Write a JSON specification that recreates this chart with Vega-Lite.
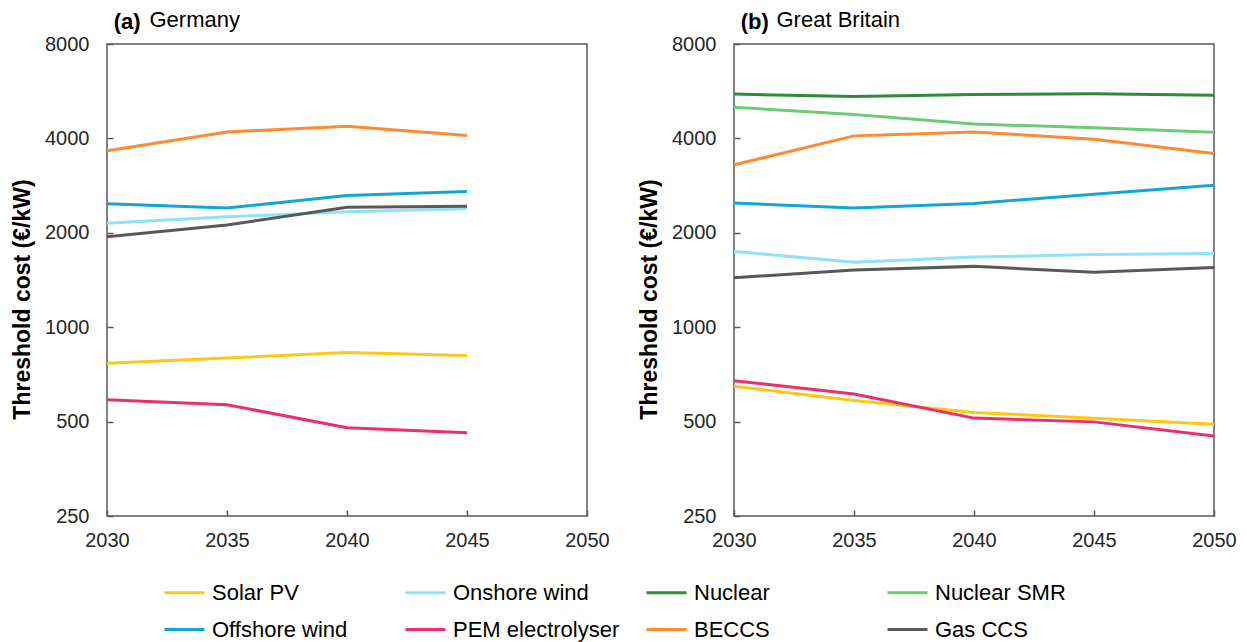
{
  "$schema": "https://vega.github.io/schema/vega-lite/v6.json",
  "padding": {"left": 10, "top": 8, "right": 20, "bottom": 5},
  "config": {
    "font": "Liberation Sans",
    "view": {"stroke": "#595959", "strokeWidth": 1.5},
    "axis": {
      "grid": false,
      "domain": false,
      "labelFontSize": 20,
      "labelColor": "#262626",
      "tickColor": "#595959",
      "tickWidth": 1.5,
      "tickSize": -6
    },
    "title": {"fontSize": 22, "color": "#000000", "anchor": "start"}
  },
  "data": {
    "values": [
      {"country": "Germany", "tech": "Solar PV", "year": 2030, "cost": 767},
      {"country": "Germany", "tech": "Solar PV", "year": 2035, "cost": 798},
      {"country": "Germany", "tech": "Solar PV", "year": 2040, "cost": 830},
      {"country": "Germany", "tech": "Solar PV", "year": 2045, "cost": 813},
      {"country": "Germany", "tech": "Onshore wind", "year": 2030, "cost": 2145},
      {"country": "Germany", "tech": "Onshore wind", "year": 2035, "cost": 2250},
      {"country": "Germany", "tech": "Onshore wind", "year": 2040, "cost": 2333},
      {"country": "Germany", "tech": "Onshore wind", "year": 2045, "cost": 2388},
      {"country": "Germany", "tech": "Offshore wind", "year": 2030, "cost": 2475},
      {"country": "Germany", "tech": "Offshore wind", "year": 2035, "cost": 2400},
      {"country": "Germany", "tech": "Offshore wind", "year": 2040, "cost": 2629},
      {"country": "Germany", "tech": "Offshore wind", "year": 2045, "cost": 2707},
      {"country": "Germany", "tech": "PEM electrolyser", "year": 2030, "cost": 587},
      {"country": "Germany", "tech": "PEM electrolyser", "year": 2035, "cost": 566},
      {"country": "Germany", "tech": "PEM electrolyser", "year": 2040, "cost": 478},
      {"country": "Germany", "tech": "PEM electrolyser", "year": 2045, "cost": 461},
      {"country": "Germany", "tech": "BECCS", "year": 2030, "cost": 3650},
      {"country": "Germany", "tech": "BECCS", "year": 2035, "cost": 4193},
      {"country": "Germany", "tech": "BECCS", "year": 2040, "cost": 4374},
      {"country": "Germany", "tech": "BECCS", "year": 2045, "cost": 4084},
      {"country": "Germany", "tech": "Gas CCS", "year": 2030, "cost": 1944},
      {"country": "Germany", "tech": "Gas CCS", "year": 2035, "cost": 2118},
      {"country": "Germany", "tech": "Gas CCS", "year": 2040, "cost": 2413},
      {"country": "Germany", "tech": "Gas CCS", "year": 2045, "cost": 2432},
      {"country": "Great Britain", "tech": "Solar PV", "year": 2030, "cost": 648},
      {"country": "Great Britain", "tech": "Solar PV", "year": 2035, "cost": 584},
      {"country": "Great Britain", "tech": "Solar PV", "year": 2040, "cost": 535},
      {"country": "Great Britain", "tech": "Solar PV", "year": 2045, "cost": 512},
      {"country": "Great Britain", "tech": "Solar PV", "year": 2050, "cost": 490},
      {"country": "Great Britain", "tech": "Onshore wind", "year": 2030, "cost": 1745},
      {"country": "Great Britain", "tech": "Onshore wind", "year": 2035, "cost": 1612},
      {"country": "Great Britain", "tech": "Onshore wind", "year": 2040, "cost": 1673},
      {"country": "Great Britain", "tech": "Onshore wind", "year": 2045, "cost": 1704},
      {"country": "Great Britain", "tech": "Onshore wind", "year": 2050, "cost": 1717},
      {"country": "Great Britain", "tech": "Nuclear", "year": 2030, "cost": 5540},
      {"country": "Great Britain", "tech": "Nuclear", "year": 2035, "cost": 5438},
      {"country": "Great Britain", "tech": "Nuclear", "year": 2040, "cost": 5522},
      {"country": "Great Britain", "tech": "Nuclear", "year": 2045, "cost": 5555},
      {"country": "Great Britain", "tech": "Nuclear", "year": 2050, "cost": 5493},
      {"country": "Great Britain", "tech": "Nuclear SMR", "year": 2030, "cost": 5027},
      {"country": "Great Britain", "tech": "Nuclear SMR", "year": 2035, "cost": 4770},
      {"country": "Great Britain", "tech": "Nuclear SMR", "year": 2040, "cost": 4444},
      {"country": "Great Britain", "tech": "Nuclear SMR", "year": 2045, "cost": 4327},
      {"country": "Great Britain", "tech": "Nuclear SMR", "year": 2050, "cost": 4182},
      {"country": "Great Britain", "tech": "Offshore wind", "year": 2030, "cost": 2487},
      {"country": "Great Britain", "tech": "Offshore wind", "year": 2035, "cost": 2400},
      {"country": "Great Britain", "tech": "Offshore wind", "year": 2040, "cost": 2481},
      {"country": "Great Britain", "tech": "Offshore wind", "year": 2045, "cost": 2656},
      {"country": "Great Britain", "tech": "Offshore wind", "year": 2050, "cost": 2836},
      {"country": "Great Britain", "tech": "PEM electrolyser", "year": 2030, "cost": 675},
      {"country": "Great Britain", "tech": "PEM electrolyser", "year": 2035, "cost": 612},
      {"country": "Great Britain", "tech": "PEM electrolyser", "year": 2040, "cost": 513},
      {"country": "Great Britain", "tech": "PEM electrolyser", "year": 2045, "cost": 499},
      {"country": "Great Britain", "tech": "PEM electrolyser", "year": 2050, "cost": 450},
      {"country": "Great Britain", "tech": "BECCS", "year": 2030, "cost": 3294},
      {"country": "Great Britain", "tech": "BECCS", "year": 2035, "cost": 4075},
      {"country": "Great Britain", "tech": "BECCS", "year": 2040, "cost": 4193},
      {"country": "Great Britain", "tech": "BECCS", "year": 2045, "cost": 3978},
      {"country": "Great Britain", "tech": "BECCS", "year": 2050, "cost": 3583},
      {"country": "Great Britain", "tech": "Gas CCS", "year": 2030, "cost": 1437},
      {"country": "Great Britain", "tech": "Gas CCS", "year": 2035, "cost": 1522},
      {"country": "Great Britain", "tech": "Gas CCS", "year": 2040, "cost": 1563},
      {"country": "Great Britain", "tech": "Gas CCS", "year": 2045, "cost": 1498},
      {"country": "Great Britain", "tech": "Gas CCS", "year": 2050, "cost": 1550}
    ]
  },
  "hconcat": [
    {
      "title": {"text": "(a)", "fontWeight": "bold", "dy": 30, "dx": 103},
      "vconcat": [
        {
          "title": {"text": "Germany", "fontWeight": "normal", "dx": 138, "offset": 2},
          "width": 480,
          "height": 472,
          "transform": [{"filter": "datum.country === 'Germany'"}],
          "mark": {"type": "line", "strokeWidth": 3, "clip": true},
          "encoding": {
            "x": {
              "field": "year", "type": "quantitative",
              "scale": {"domain": [2030, 2050], "nice": false, "zero": false},
              "axis": {"title": null, "values": [2030, 2035, 2040, 2045, 2050], "format": "d", "labelPadding": 20, "labelFlush": false}
            },
            "y": {
              "field": "cost", "type": "quantitative",
              "scale": {"type": "log", "base": 2, "domain": [250, 8000], "nice": false},
              "axis": {"title": "Threshold cost (€/kW)", "titleFontSize": 23, "titleFontWeight": "bold", "titleColor": "#000000", "titlePadding": 10, "titleY": 255, "values": [250, 500, 1000, 2000, 4000, 8000], "format": "d", "labelPadding": 24}
            },
            "color": {
              "field": "tech", "type": "nominal",
              "scale": {
                "domain": ["Solar PV", "Onshore wind", "Nuclear", "Nuclear SMR", "Offshore wind", "PEM electrolyser", "BECCS", "Gas CCS"],
                "range": ["#FFC810", "#8FE2FA", "#2E8B3A", "#6CCB74", "#10A6DA", "#EE2D6C", "#FF8A30", "#595959"]
              },
              "legend": {
                "title": null,
                "orient": "none",
                "legendX": 56,
                "legendY": 527,
                "direction": "horizontal",
                "columns": 4,
                "gridAlign": "all",
                "columnPadding": 20,
                "rowPadding": 4,
                "symbolType": "stroke",
                "symbolSize": 1600,
                "symbolStrokeWidth": 3,
                "labelFontSize": 22,
                "labelLimit": 300,
                "labelColor": "#000000",
                "labelOffset": 6
              }
            }
          }
        }
      ]
    },
    {
      "title": {"text": "(b)", "fontWeight": "bold", "dy": 30, "dx": 103},
      "vconcat": [
        {
          "title": {"text": "Great Britain", "fontWeight": "normal", "dx": 138, "offset": 2},
          "width": 480,
          "height": 472,
          "transform": [{"filter": "datum.country === 'Great Britain'"}],
          "mark": {"type": "line", "strokeWidth": 3, "clip": true},
          "encoding": {
            "x": {
              "field": "year", "type": "quantitative",
              "scale": {"domain": [2030, 2050], "nice": false, "zero": false},
              "axis": {"title": null, "values": [2030, 2035, 2040, 2045, 2050], "format": "d", "labelPadding": 20, "labelFlush": false}
            },
            "y": {
              "field": "cost", "type": "quantitative",
              "scale": {"type": "log", "base": 2, "domain": [250, 8000], "nice": false},
              "axis": {"title": "Threshold cost (€/kW)", "titleFontSize": 23, "titleFontWeight": "bold", "titleColor": "#000000", "titlePadding": 10, "titleY": 255, "values": [250, 500, 1000, 2000, 4000, 8000], "format": "d", "labelPadding": 24}
            },
            "color": {"field": "tech", "type": "nominal"}
          }
        }
      ]
    }
  ],
  "spacing": 27,
  "resolve": {"scale": {"color": "shared"}}
}
